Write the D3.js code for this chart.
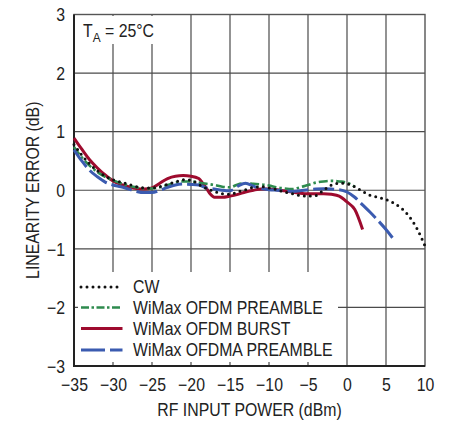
<!DOCTYPE html>
<html><head><meta charset="utf-8">
<script src="https://cdn.jsdelivr.net/npm/d3@7"></script>
<style>
body{margin:0;background:#fff;}
text{font-family:"Liberation Sans",Arial,Helvetica,sans-serif;fill:#222;}
</style></head>
<body><svg id="c" width="451" height="423"></svg>
<script>
const xTicks = [-35,-30,-25,-20,-15,-10,-5,0,5,10];
const yTicks = [-3,-2,-1,0,1,2,3];
const seriesNames = ["CW","WiMax OFDM PREAMBLE","WiMax OFDM BURST","WiMax OFDMA PREAMBLE"];

const cwX = [-35,-34,-33,-32,-31,-30,-29,-28,-27,-26,-25,-24,-23,-22,-21,-20,-19,-18,-17,-16,-15,-14,-13,-12,-11,-10,-9,-8,-7,-6,-5,-4,-3,-2,-1,0,1,2,3,4,5,6,7,8,9,10];
const cwY = [0.78,0.6,0.45,0.33,0.24,0.18,0.14,0.1,0.06,0.04,0.04,0.06,0.1,0.14,0.18,0.17,0.1,0.03,-0.02,-0.06,-0.07,-0.03,0.01,0.05,0.06,0.04,0.01,-0.03,-0.06,-0.09,-0.1,-0.09,0.0,0.09,0.12,0.11,0.06,-0.02,-0.09,-0.12,-0.16,-0.22,-0.31,-0.45,-0.66,-0.95];

const ofdmPreX = [-35,-34,-33,-32,-31,-30,-29,-28,-27,-26,-25,-24,-23,-22,-21,-20,-19,-18,-17,-16,-15,-14,-13,-12,-11,-10,-9,-8,-7,-6,-5,-4,-3,-2,-1,0,1];
const ofdmPreY = [0.74,0.56,0.42,0.31,0.23,0.17,0.12,0.08,0.05,0.03,0.03,0.05,0.09,0.13,0.15,0.15,0.13,0.11,0.09,0.06,0.05,0.1,0.12,0.11,0.1,0.08,0.05,0.03,0.02,0.05,0.09,0.13,0.15,0.16,0.15,0.13,0.06];

const burstX = [-35,-34,-33,-32,-31,-30,-29,-28,-27,-26,-25,-24,-23,-22,-21,-20,-19,-18.5,-18,-17.5,-17,-16,-15,-14,-13,-12,-11,-10,-9,-8,-7,-6,-5,-4,-3,-2,-1,0,1,2];
const burstY = [0.89,0.7,0.52,0.38,0.26,0.16,0.1,0.06,0.03,0.02,0.04,0.12,0.2,0.24,0.25,0.24,0.2,0.12,0.03,-0.07,-0.12,-0.12,-0.1,-0.07,-0.03,0.0,0.02,0.02,0.01,-0.01,-0.03,-0.05,-0.06,-0.06,-0.06,-0.07,-0.1,-0.2,-0.33,-0.67];

const ofdmaX = [-35,-34,-33,-32,-31,-30,-29,-28,-27,-26,-25,-24,-23,-22,-21,-20,-19,-18,-17,-16,-15,-14,-13,-12,-11,-10,-9,-8,-7,-6,-5,-4,-3,-2,-1,0,1,2,3,4,5,6];
const ofdmaY = [0.69,0.5,0.34,0.23,0.14,0.09,0.06,0.02,-0.02,-0.04,-0.04,0.0,0.05,0.09,0.105,0.1,0.09,0.04,0.02,0.0,-0.01,0.07,0.12,0.07,0.03,0.01,0.0,-0.01,-0.02,-0.01,0.01,0.02,0.025,0.02,0.01,-0.03,-0.12,-0.25,-0.38,-0.52,-0.67,-0.84];

const svg = d3.select("#c");
const L = 74, R = 425, T = 14.5, B = 366;
const F = 0.88; // horizontal condensing of the font
const x = d3.scaleLinear().domain([-35,10]).range([L,R]);
const y = d3.scaleLinear().domain([-3,3]).range([B,T]);
const fmt = d => String(d).replace("-","\u2212");

// grid
const g = svg.append("g");
g.selectAll(".vg").data(xTicks.slice(1,-1)).join("line")
  .attr("x1",d=>x(d)).attr("x2",d=>x(d)).attr("y1",T).attr("y2",B)
  .attr("stroke","#4a4a4a").attr("stroke-width",1.2);
g.selectAll(".hg").data(yTicks.slice(1,-1)).join("line")
  .attr("x1",L).attr("x2",R).attr("y1",d=>y(d)).attr("y2",d=>y(d))
  .attr("stroke","#4a4a4a").attr("stroke-width",1.2);

// white boxes (legend + temperature)
svg.append("rect").attr("x",78).attr("y",272).attr("width",260).attr("height",90).attr("fill","#fff");
svg.append("rect").attr("x",76).attr("y",16).attr("width",86).attr("height",28).attr("fill","#fff");

// frame
svg.append("rect").attr("x",L).attr("y",T).attr("width",R-L).attr("height",B-T)
  .attr("fill","none").attr("stroke","#555").attr("stroke-width",1.4);
svg.append("path").attr("d",`M${L},${T}V${B}H${R}`).attr("fill","none").attr("stroke","#222").attr("stroke-width",2);

// axes
const xa = d3.axisBottom(x).tickValues(xTicks).tickSize(0).tickPadding(0).tickFormat(fmt);
const xg = svg.append("g").attr("transform",`translate(0,${B})`).call(xa);
xg.select(".domain").remove();
xg.attr("font-family",null);
xg.selectAll("text").attr("dy",null).attr("y",25.5).attr("font-size",18).attr("fill","#222")
  .attr("transform",`scale(${F},1)`);
const ya = d3.axisLeft(y).tickValues(yTicks).tickSize(0).tickPadding(0).tickFormat(fmt);
const yg = svg.append("g").attr("transform",`translate(${L},0)`).call(ya);
yg.select(".domain").remove();
yg.attr("font-family",null);
yg.selectAll("text").attr("x",-9/F).attr("dy","0.35em").attr("font-size",18).attr("fill","#222")
  .attr("transform",`scale(${F},1)`);

function label(px,py,str,opts={}){
  const t = svg.append("text")
    .attr("transform",`translate(${px},${py})${opts.rot?` rotate(${opts.rot})`:""} scale(${F},1)`)
    .attr("text-anchor",opts.anchor||"start").attr("font-size",opts.size||18);
  if(opts.dy) t.attr("dy",opts.dy);
  if(str!==null) t.text(str);
  return t;
}
label((L+R)/2,416,"RF INPUT POWER (dBm)",{anchor:"middle"});
label(39,(T+B)/2,"LINEARITY ERROR (dB)",{anchor:"middle",rot:-90});

const ta = label(83,37,null,{size:18});
ta.append("tspan").text("T");
ta.append("tspan").attr("font-size",13.5).attr("dy",5).text("A");
ta.append("tspan").attr("dy",-5).text(" = 25\u00B0C");

// series
const styles = [
  {name:seriesNames[0], xs:cwX, ys:cwY, color:"#111", w:3, dash:"0,6", cap:"round"},
  {name:seriesNames[1], xs:ofdmPreX, ys:ofdmPreY, color:"#2e8b4e", w:2.6, dash:"9,3,2.5,3", cap:"butt"},
  {name:seriesNames[2], xs:burstX, ys:burstY, color:"#9e0b2e", w:3, dash:null, cap:"butt"},
  {name:seriesNames[3], xs:ofdmaX, ys:ofdmaY, color:"#3b5bb0", w:3, dash:"21,5", cap:"butt"}
];
const line = d3.line().x(d=>x(d[0])).y(d=>y(d[1])).curve(d3.curveMonotoneX);
const order = [2,1,3,0];
order.forEach(i=>{
  const s = styles[i];
  svg.append("path").datum(s.xs.map((v,j)=>[v,s.ys[j]]))
    .attr("d",line).attr("fill","none").attr("stroke",s.color).attr("stroke-width",s.w)
    .attr("stroke-dasharray",s.dash).attr("stroke-linecap",s.cap).attr("stroke-linejoin","round");
});

// legend
const ly = [287, 307.5, 328.5, 350];
styles.forEach((s,i)=>{
  svg.append("line").attr("x1",81).attr("x2",i===0?118:122.5).attr("y1",ly[i]).attr("y2",ly[i])
    .attr("stroke",s.color).attr("stroke-width",s.w)
    .attr("stroke-dasharray",i===3?"24,5":(i===1?"8,2.5,2.5,2.5":s.dash)).attr("stroke-linecap",s.cap);
  label(133,ly[i],s.name,{dy:"0.36em"});
});
</script></body></html>
